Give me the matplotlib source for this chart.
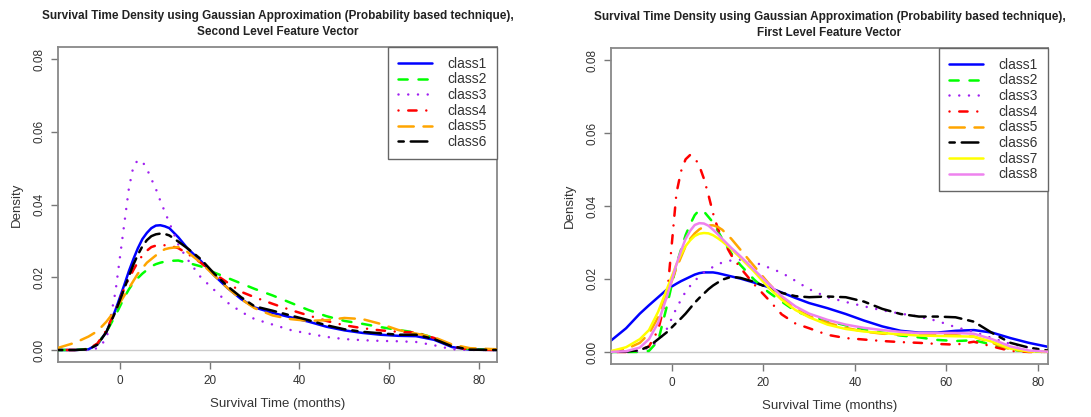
import matplotlib
matplotlib.use("Agg")
import matplotlib.pyplot as plt

plt.rcParams["font.family"] = ["Liberation Sans", "DejaVu Sans"]
plt.rcParams["lines.scale_dashes"] = False

# Survival time grid (months) at which the densities are tabulated
months_second = [-14, -10, -7, -5, -3, -1, 1, 2, 3, 4, 5, 6, 7, 8, 9, 10, 11, 13, 15, 18, 21, 24, 27,
                 30, 34, 38, 42, 46, 50, 54, 58, 62, 66, 70, 74, 78, 84]
months_first = [-14, -10, -7, -5, -3, -1, 1, 2, 3, 4, 5, 6, 7, 8, 9, 10, 11, 13, 15, 18, 21, 24, 27,
                30, 34, 38, 42, 46, 50, 54, 58, 62, 66, 70, 74, 78, 83]

# Second level feature vector densities
sl_class1 = [0, 0, 0.0002, 0.0015, 0.005, 0.011,
             0.018, 0.0217, 0.025, 0.028, 0.0305, 0.0322, 0.0335, 0.0342, 0.0343, 0.034, 0.0335,
             0.031, 0.028, 0.0245, 0.0205, 0.017, 0.014, 0.0117, 0.0102, 0.009, 0.0078, 0.0064,
             0.0054, 0.0047, 0.0042, 0.0039, 0.0038, 0.0028, 0.0008, 0.0001, 0]
sl_class2 = [0, 0, 0.0003, 0.0017, 0.005, 0.0095,
             0.0145, 0.0167, 0.0185, 0.0198, 0.021, 0.022, 0.023, 0.0236, 0.024, 0.0243, 0.0245,
             0.0246, 0.024, 0.023, 0.0213, 0.0198, 0.0183, 0.0168, 0.015, 0.013, 0.011, 0.0093,
             0.008, 0.0072, 0.0063, 0.0055, 0.0048, 0.0033, 0.0011, 0.0002, 0]
sl_class3 = [0, 0, 0, 0.0005, 0.003, 0.016,
             0.035, 0.0445, 0.0505, 0.0522, 0.0518, 0.0498, 0.047, 0.0443, 0.041, 0.038, 0.035,
             0.029, 0.025, 0.02, 0.0165, 0.013, 0.0105, 0.0085, 0.007, 0.0055, 0.0045, 0.0036,
             0.003, 0.0027, 0.0025, 0.0024, 0.0022, 0.0013, 0.0002, 0, 0]
sl_class4 = [0, 0, 0.0003, 0.0018, 0.0055, 0.011,
             0.017, 0.0196, 0.022, 0.0242, 0.026, 0.0273, 0.0283, 0.0287, 0.0288, 0.0288, 0.0287,
             0.028, 0.0265, 0.024, 0.021, 0.0185, 0.016, 0.0145, 0.0127, 0.011, 0.0095, 0.008,
             0.0068, 0.006, 0.0054, 0.005, 0.0048, 0.0033, 0.001, 0.0001, 0]
sl_class5 = [0.0005, 0.002, 0.0037, 0.0052, 0.0078, 0.011,
             0.015, 0.017, 0.019, 0.021, 0.0225, 0.024, 0.025, 0.026, 0.027, 0.0277, 0.028,
             0.0283, 0.027, 0.024, 0.0205, 0.017, 0.014, 0.0115, 0.0095, 0.0085, 0.008, 0.0082,
             0.0088, 0.0085, 0.0072, 0.0055, 0.0045, 0.0035, 0.0015, 0.0005, 0.0002]
sl_class6 = [0, 0, 0.0002, 0.0015, 0.005, 0.0105,
             0.017, 0.0203, 0.0235, 0.0262, 0.0285, 0.0302, 0.0313, 0.0318, 0.032, 0.0319, 0.0315,
             0.0298, 0.028, 0.025, 0.021, 0.0175, 0.0145, 0.012, 0.0108, 0.0095, 0.0082, 0.0068,
             0.0057, 0.005, 0.0046, 0.0042, 0.0042, 0.003, 0.001, 0.0001, 0]

# First level feature vector densities
fl_class1 = [0.0024, 0.0065, 0.0105, 0.0128, 0.015, 0.0172,
             0.0187, 0.0194, 0.02, 0.0206, 0.0212, 0.0216, 0.0218, 0.0218, 0.0218, 0.0216, 0.0213,
             0.0207, 0.0201, 0.019, 0.0178, 0.0163, 0.0148, 0.0134, 0.012, 0.0104, 0.0086, 0.007,
             0.0058, 0.0053, 0.0053, 0.0058, 0.006, 0.0053, 0.0038, 0.0025, 0.0012]
fl_class2 = [0, 0, 0, 0.0003, 0.003, 0.013,
             0.024, 0.028, 0.032, 0.035, 0.0375, 0.0389, 0.0385, 0.037, 0.0355, 0.0333, 0.031,
             0.027, 0.0238, 0.0198, 0.0165, 0.0138, 0.0112, 0.0098, 0.0085, 0.0073, 0.0062, 0.0053,
             0.0045, 0.004, 0.0033, 0.003, 0.0032, 0.002, 0.0006, 0.0001, 0]
fl_class3 = [0, 0, 0.0003, 0.0012, 0.003, 0.0065,
             0.012, 0.0143, 0.0165, 0.0181, 0.0195, 0.0207, 0.0218, 0.0226, 0.0233, 0.024, 0.0245,
             0.0251, 0.0253, 0.0246, 0.0232, 0.0217, 0.0195, 0.0172, 0.015, 0.0137, 0.0125, 0.0114,
             0.0105, 0.0097, 0.0085, 0.0068, 0.0055, 0.0038, 0.0022, 0.0012, 0.0002]
fl_class4 = [0, 0, 0.0006, 0.0015, 0.006, 0.016,
             0.0435, 0.0495, 0.0528, 0.054, 0.0532, 0.051, 0.0475, 0.043, 0.038, 0.034, 0.031,
             0.0265, 0.023, 0.0185, 0.0145, 0.0103, 0.0078, 0.0065, 0.0047, 0.0038, 0.0034, 0.003,
             0.0027, 0.0025, 0.0022, 0.002, 0.0028, 0.0015, 0.0003, 0, 0]
fl_class5 = [0, 0.0008, 0.0025, 0.005, 0.0095, 0.016,
             0.023, 0.026, 0.029, 0.031, 0.0325, 0.0336, 0.0343, 0.0347, 0.0347, 0.0343, 0.0335,
             0.031, 0.028, 0.0235, 0.019, 0.015, 0.0118, 0.0098, 0.008, 0.0066, 0.0056, 0.005,
             0.0048, 0.0048, 0.0047, 0.0046, 0.0042, 0.0025, 0.0007, 0.0001, 0]
fl_class6 = [0, 0.0001, 0.0005, 0.0015, 0.0035, 0.0055,
             0.008, 0.0092, 0.0105, 0.012, 0.0135, 0.0148, 0.016, 0.0172, 0.0182, 0.019, 0.0198,
             0.0206, 0.0203, 0.0192, 0.0176, 0.0162, 0.0153, 0.015, 0.0152, 0.015, 0.0138, 0.0118,
             0.0104, 0.0097, 0.0097, 0.0095, 0.0083, 0.0052, 0.0025, 0.0012, 0.0002]
fl_class7 = [0, 0.0013, 0.0035, 0.006, 0.011, 0.0175,
             0.024, 0.0267, 0.029, 0.0306, 0.0318, 0.0324, 0.0326, 0.0325, 0.032, 0.0312, 0.0303,
             0.0282, 0.0258, 0.022, 0.0178, 0.0143, 0.0115, 0.0095, 0.0075, 0.0063, 0.0056, 0.0052,
             0.0048, 0.0045, 0.0044, 0.0043, 0.0042, 0.0028, 0.0009, 0.0002, 0]
fl_class8 = [0, 0.0002, 0.0012, 0.0035, 0.008, 0.0155,
             0.024, 0.0277, 0.031, 0.0332, 0.0348, 0.0353, 0.0352, 0.0346, 0.0335, 0.0323, 0.031,
             0.0285, 0.0262, 0.0225, 0.0188, 0.0153, 0.0125, 0.0105, 0.0088, 0.0075, 0.0066, 0.006,
             0.0055, 0.0052, 0.0052, 0.0052, 0.005, 0.0035, 0.0015, 0.0004, 0]

labels = ["class1", "class2", "class3", "class4", "class5", "class6", "class7", "class8"]
colors = ["#0000FF", "#00FF00", "#A020F0", "#FF0000", "#FFA500", "#000000", "#FFFF00", "#EE82EE"]
dashes = ["-", (0, (6.6, 7.8)), (0, (0.01, 7.0)), (0, (0.01, 7.0, 6.0, 7.0)),
          (0, (11.0, 7.0)), (0, (3.8, 5.0, 12.0, 5.0)), "-", "-"]

title_first_line = "Survival Time Density using Gaussian Approximation (Probability based technique),"
titles = [title_first_line + "\nSecond Level Feature Vector",
          title_first_line + "\nFirst Level Feature Vector"]

W, H = 1091, 417
fig = plt.figure(figsize=(W / 100, H / 100), dpi=100)


def px_axes(left, top, right, bottom):
    return fig.add_axes([left / W, 1 - bottom / H, (right - left) / W, (bottom - top) / H])


panels = [
    (px_axes(58, 47, 497, 362), months_second,
     [sl_class1, sl_class2, sl_class3, sl_class4, sl_class5, sl_class6], (-13.8, 84.0)),
    (px_axes(611, 48, 1048, 364), months_first,
     [fl_class1, fl_class2, fl_class3, fl_class4, fl_class5, fl_class6, fl_class7, fl_class8],
     (-13.3, 82.2)),
]

text_col = "#333333"
for (ax, months, series, xlim), title in zip(panels, titles):
    ax.axhline(0, color="#cccccc", lw=1.0, zorder=1)
    for i, dens in enumerate(series):
        ax.plot(months, dens, color=colors[i], ls=dashes[i], lw=1.8,
                dash_capstyle="round", solid_capstyle="round", solid_joinstyle="round",
                label=labels[i], zorder=2 + i)
    ax.set_xlim(*xlim)
    ax.set_ylim(-0.0033, 0.0833)
    ax.set_xticks([0, 20, 40, 60, 80])
    ax.set_yticks([0, 0.02, 0.04, 0.06, 0.08])
    ax.set_yticklabels(["0.00", "0.02", "0.04", "0.06", "0.08"], rotation=90, va="center")
    ax.tick_params(colors="#777777", labelcolor=text_col, labelsize=8.5, length=5, width=1.0, pad=4)
    for s in ax.spines.values():
        s.set_color("#888888")
        s.set_linewidth(1.3)
    ax.set_xlabel("Survival Time (months)", fontsize=9.5, color=text_col, labelpad=8)
    ax.set_ylabel("Density", fontsize=9.5, color=text_col, labelpad=8)
    ax.set_title(title, fontsize=8.5, fontweight="bold", color="#222222", pad=9, linespacing=1.35)
    leg = ax.legend(loc="upper right", borderaxespad=0, fancybox=False, framealpha=1,
                    edgecolor="#666666", fontsize=10, handlelength=2.5, handletextpad=1.1,
                    labelspacing=0.12, borderpad=0.7)
    leg.get_frame().set_linewidth(1.0)
    for t in leg.get_texts():
        t.set_color(text_col)

fig.savefig("out.png", dpi=100)
